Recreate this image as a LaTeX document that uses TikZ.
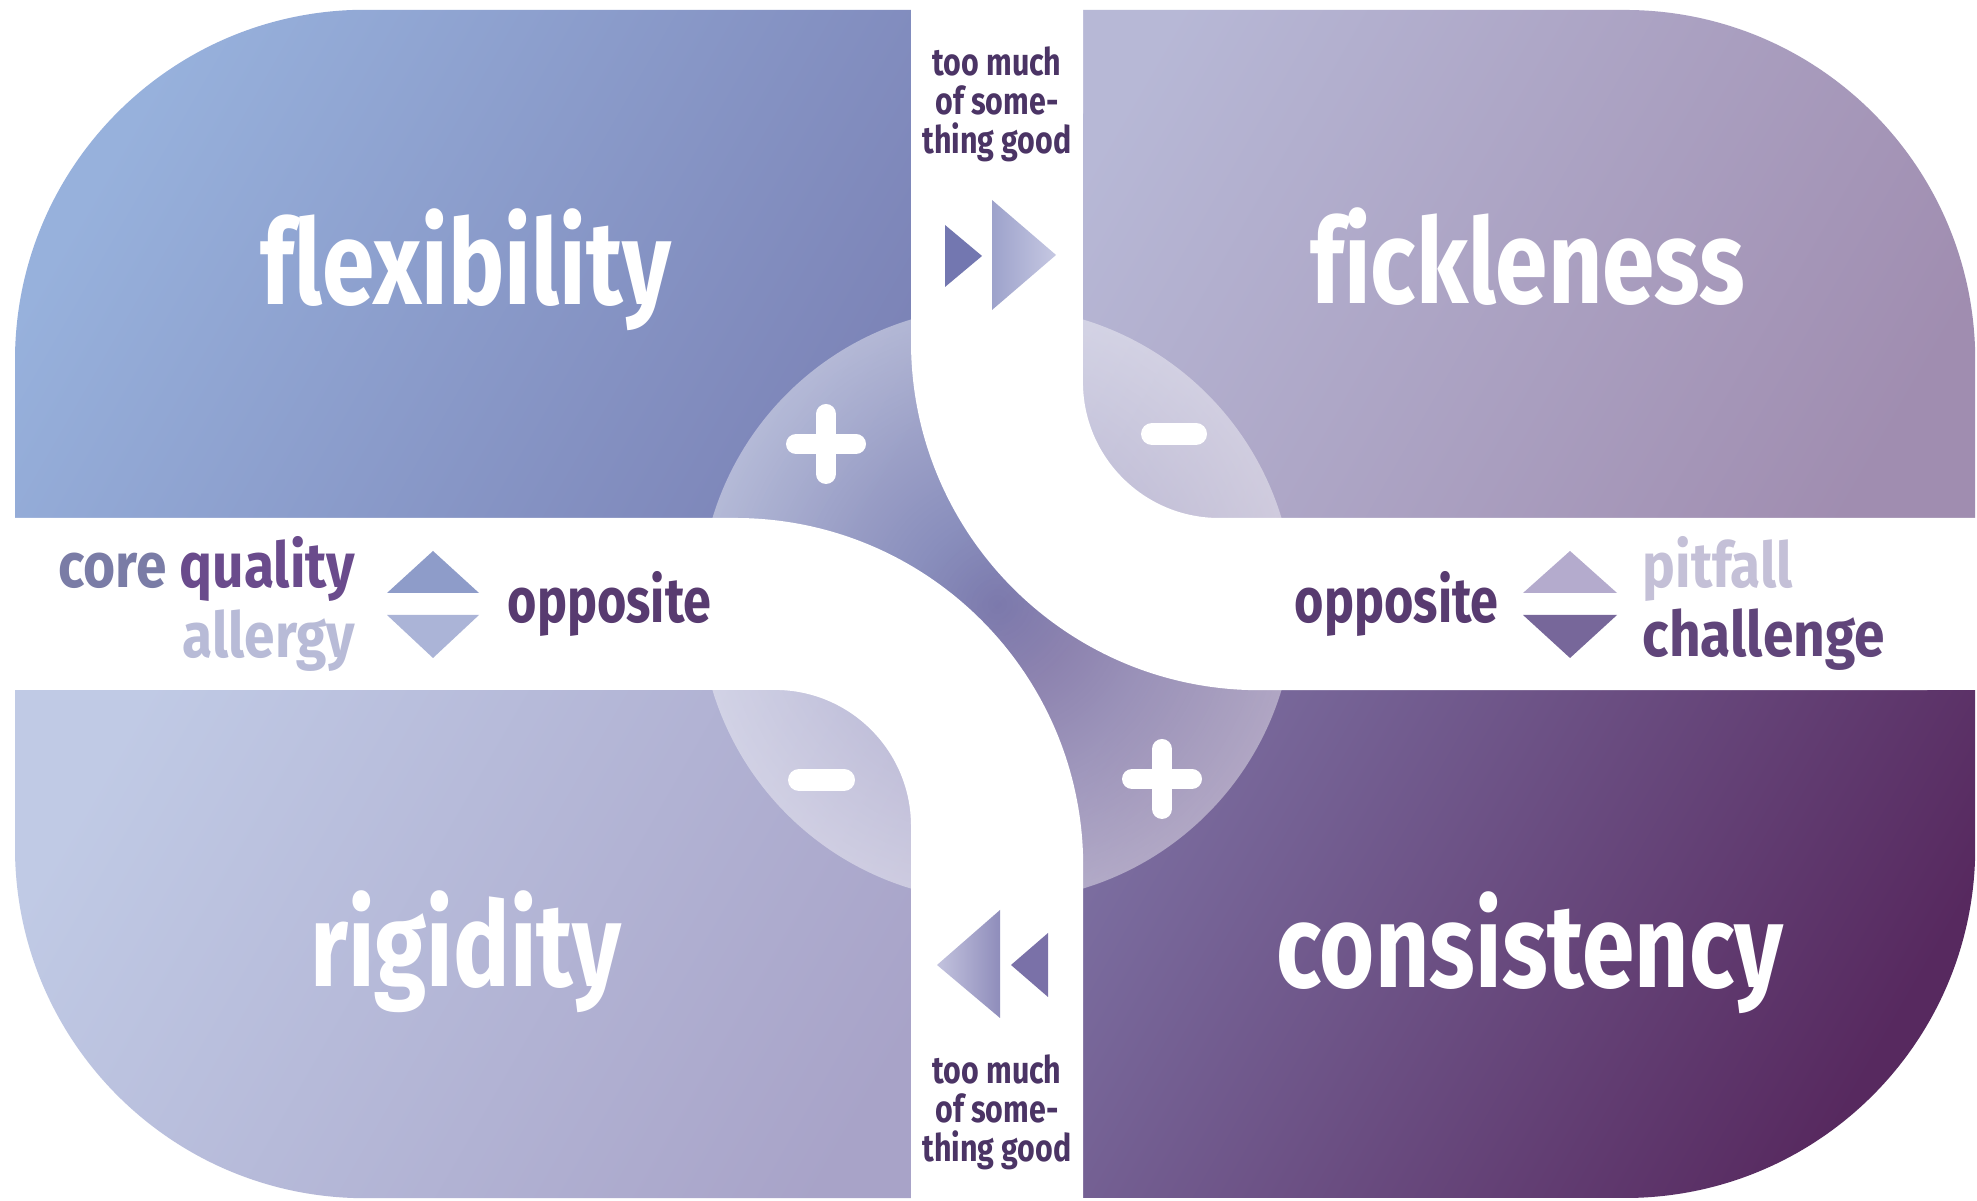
\documentclass[tikz,border=0pt]{standalone}
\usepackage{fontspec}
\usetikzlibrary{fadings}
\newfontfamily\cf[FakeStretch=0.8, Ligatures=NoCommon]{Fira Sans}
\newfontfamily\cfw[FakeStretch=0.875, Ligatures=NoCommon]{Fira Sans}
\definecolor{tlA}{HTML}{97B1DC}
\definecolor{tlB}{HTML}{7A80B4}
\definecolor{trA}{HTML}{B7B8D6}
\definecolor{trB}{HTML}{A08DB0}
\definecolor{blA}{HTML}{C0CAE5}
\definecolor{blB}{HTML}{A8A3C8}
\definecolor{brA}{HTML}{7E73A5}
\definecolor{brB}{HTML}{57295F}
\definecolor{txtDark}{HTML}{4B3465}
\definecolor{coreC}{HTML}{7A7CA6}
\definecolor{qualC}{HTML}{6A4B8C}
\definecolor{allergyC}{HTML}{B8BBD7}
\definecolor{oppC}{HTML}{583B70}
\definecolor{pitC}{HTML}{C4C0D7}
\definecolor{chalC}{HTML}{60457A}
\definecolor{triLU}{HTML}{8E9CC9}
\definecolor{triLD}{HTML}{ABB4D7}
\definecolor{triRU}{HTML}{B4ABCD}
\definecolor{triRD}{HTML}{77679A}
\definecolor{arrSmallTop}{HTML}{7377B0}
\definecolor{arrBigTopL}{HTML}{9DA2CB}
\definecolor{arrBigTopR}{HTML}{C6C8E2}
\definecolor{arrBigBotL}{HTML}{C3C3DE}
\definecolor{arrBigBotR}{HTML}{8F8DBB}
\definecolor{arrSmallBot}{HTML}{7A71A8}
\tikzfading[name=rimfade, inner color=transparent!100, outer color=transparent!58]
\begin{document}
\begin{tikzpicture}[x=0.01cm, y=0.01cm,
  mainlbl/.style={inner sep=0, anchor=base, text=white, font=\cf\bfseries\fontsize{33.6pt}{40pt}\selectfont},
  midlbl/.style={inner sep=0, font=\cf\bfseries\fontsize{17.9pt}{21pt}\selectfont},
  midlblw/.style={inner sep=0, font=\cfw\bfseries\fontsize{17.9pt}{21pt}\selectfont},
  smalllbl/.style={inner sep=0, anchor=base, text=txtDark, font=\cf\bfseries\fontsize{10.8pt}{13pt}\selectfont},
  sign/.style={white, line width=0.2cm, line cap=round},
  band/.style={fill=white}]
\useasboundingbox (0,0) rectangle (1977,1201);
\fill[white] (0,0) rectangle (1977,1201);
% quadrants
\shade[top color=tlA, bottom color=tlB, shading angle=60]
  (15,597) -- (15,841) arc[start angle=180, end angle=90, radius=3.5cm] -- (997,1191) -- (997,597) -- cycle;
\shade[top color=trA, bottom color=trB, shading angle=60]
  (997,597) -- (997,1191) -- (1625,1191) arc[start angle=90, end angle=0, radius=3.5cm] -- (1975,597) -- cycle;
\shade[top color=blA, bottom color=blB, shading angle=60]
  (15,597) -- (15,353) arc[start angle=180, end angle=270, radius=3.5cm] -- (997,3) -- (997,597) -- cycle;
\shade[top color=brA, bottom color=brB, shading angle=60]
  (997,597) -- (997,3) -- (1625,3) arc[start angle=270, end angle=360, radius=3.5cm] -- (1975,597) -- cycle;
% smooth centre patch where the quadrants meet
\shade[top color=tlB, bottom color=brA, shading angle=45] (911,511) rectangle (1083,683);
% central circle
\fill[white, path fading=rimfade] (997,597) circle[radius=2.97cm];
% white bands
\path[band] (911,1201) -- (911,859) arc[start angle=180, end angle=270, radius=3.48cm]
  -- (1977,511) -- (1977,683) -- (1219,683) arc[start angle=270, end angle=180, radius=1.36cm]
  -- (1083,1201) -- cycle;
\path[band] (0,683) -- (735,683) arc[start angle=90, end angle=0, radius=3.48cm]
  -- (1083,0) -- (911,0) -- (911,375) arc[start angle=0, end angle=90, radius=1.36cm]
  -- (0,511) -- cycle;
% arrows in vertical band
\fill[arrSmallTop] (945,976) -- (945,914) -- (982,945) -- cycle;
\shade[left color=arrBigTopL, right color=arrBigTopR] (992,1001) -- (992,891) -- (1056,946) -- cycle;
\shade[left color=arrBigBotL, right color=arrBigBotR] (937,236) -- (1000,291) -- (1000,183) -- cycle;
\fill[arrSmallBot] (1011,236) -- (1048,268) -- (1048,204) -- cycle;
% triangles in horizontal band
\fill[triLU] (387,608) -- (479,608) -- (433,650) -- cycle;
\fill[triLD] (387,586) -- (479,586) -- (433,543) -- cycle;
\fill[triRU] (1523,608) -- (1617,608) -- (1570,650) -- cycle;
\fill[triRD] (1523,586) -- (1617,586) -- (1570,543) -- cycle;
% plus / minus signs
\draw[sign] (796,757) -- (856,757);
\draw[sign] (826,727) -- (826,787);
\draw[sign, line width=0.22cm] (1152,767) -- (1196,767);
\draw[sign, line width=0.22cm] (799,421) -- (844,421);
\draw[sign] (1132,422) -- (1192,422);
\draw[sign] (1162,392) -- (1162,452);
% main labels
\node[mainlbl] (flex) at (466,896) {flexibility};
\node[mainlbl] (fick) at (1528,897) {fickleness};
\node[mainlbl] (rigi) at (466,214) {rigidity};
\node[mainlbl] (cons) at (1530,213) {consistency};
% vertical band labels
\node[smalllbl] (t1) at (997,1125) {too much};
\node[smalllbl] (t2) at (997,1086) {of some-};
\node[smalllbl] (t3) at (997,1047) {thing good};
\node[smalllbl] (b1) at (997,117) {too much};
\node[smalllbl] (b2) at (997,78) {of some-};
\node[smalllbl] (b3) at (997,39) {thing good};
% horizontal band labels
\node[midlblw, anchor=base east] (core) at (356,613) {\textcolor{coreC}{core} \textcolor{qualC}{quality}};
\node[midlblw, anchor=base east, text=allergyC] (allergy) at (356,543) {allergy};
\node[midlbl, anchor=base west, text=oppC] (oppL) at (507,578) {opposite};
\node[midlbl, anchor=base west, text=oppC] (oppR) at (1294,578) {opposite};
\node[midlblw, anchor=base west, text=pitC] (pit) at (1642,613) {pitfall};
\node[midlblw, anchor=base west, text=chalC] (chal) at (1642,544) {challenge};
\end{tikzpicture}
\end{document}
